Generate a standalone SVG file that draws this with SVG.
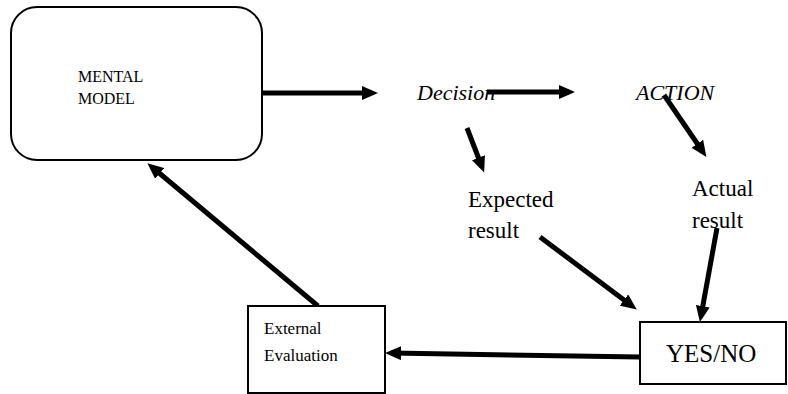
<svg xmlns="http://www.w3.org/2000/svg" width="788" height="394" viewBox="0 0 788 394">
<defs>
<style>
.box{fill:#fff;stroke:#000;stroke-width:2}
.t{font-family:"Liberation Serif","Times New Roman",serif;fill:#000}
.i{font-style:italic}
.c{stroke:#000;stroke-width:5;fill:none;marker-end:url(#ah)}
</style>
<marker id="ah" markerUnits="userSpaceOnUse" viewBox="0 0 16 14" refX="10" refY="7" markerWidth="16" markerHeight="14" orient="auto">
<path d="M0,0 L16,7 L0,14 Z" fill="#000"/>
</marker>
</defs>
<rect width="788" height="394" fill="#fff"/>
<g id="connectors">
<line class="c" x1="262" y1="93" x2="372" y2="93"/>
<line class="c" x1="487" y1="92" x2="569" y2="92"/>
<line class="c" x1="664" y1="95" x2="703" y2="152"/>
<line class="c" x1="467" y1="128" x2="482" y2="167"/>
<line class="c" x1="540" y1="237" x2="632" y2="306"/>
<line class="c" x1="717" y1="228" x2="701" y2="316"/>
<line class="c" x1="640" y1="357" x2="391" y2="353"/>
<line class="c" x1="318" y1="306" x2="152" y2="167"/>
</g>
<g id="mental-model">
<rect class="box" x="11" y="7" width="251" height="153" rx="26"/>
<text class="t" x="78" y="82" font-size="16">MENTAL</text>
<text class="t" x="78" y="104" font-size="16">MODEL</text>
</g>
<g id="decision">
<text class="t i" x="417" y="100" font-size="22">Decision</text>
</g>
<g id="action">
<text class="t i" x="636" y="100" font-size="22">ACTION</text>
</g>
<g id="expected-result">
<text class="t" x="468" y="207" font-size="23">Expected</text>
<text class="t" x="468" y="238" font-size="23">result</text>
</g>
<g id="actual-result">
<text class="t" x="692" y="196" font-size="23">Actual</text>
<text class="t" x="692" y="228" font-size="23">result</text>
</g>
<g id="external-evaluation">
<rect class="box" x="248" y="306" width="137" height="87"/>
<text class="t" x="264" y="334" font-size="17">External</text>
<text class="t" x="264" y="361" font-size="17">Evaluation</text>
</g>
<g id="yes-no">
<rect class="box" x="640" y="322" width="146" height="62"/>
<text class="t" x="666" y="362" font-size="25">YES/NO</text>
</g>
</svg>
